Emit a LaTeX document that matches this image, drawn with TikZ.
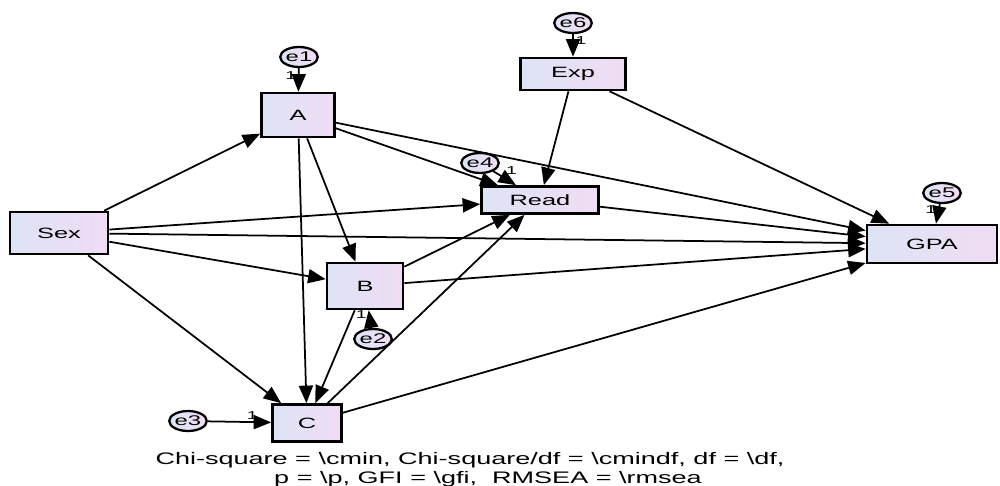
\documentclass[tikz,border=0pt]{standalone}
\usepackage{fontspec}
\setmainfont{Liberation Sans}
\newfontfamily\amosfont[FakeStretch=1.7]{Liberation Sans}
\newfontfamily\fitfont[FakeStretch=1.62]{Liberation Sans}
\usetikzlibrary{arrows.meta,shapes.geometric}
\definecolor{boxleft}{RGB}{222,228,244}
\definecolor{boxright}{RGB}{240,220,244}

\begin{document}
\begin{tikzpicture}[x=0.02cm,y=-0.02cm,>={Triangle[length=10pt,width=8pt]},
  var/.style={draw,line width=1.5pt,left color=boxleft,right color=boxright,
    inner sep=0pt,font=\amosfont\fontsize{8.5}{10}\selectfont},
  err/.style={draw,ellipse,line width=1.3pt,left color=boxleft,right color=boxright,
    inner sep=0pt,minimum width=0.64cm,minimum height=0.4cm,
    font=\amosfont\fontsize{8}{9}\selectfont},
  reg/.style={->,line width=1pt},
  one/.style={font=\amosfont\fontsize{6.5}{7}\selectfont,inner sep=1pt}]
  \useasboundingbox (0,0) rectangle (1000,486);
  % observed variables
  \path
  (59,233) node[var,minimum width=1.96cm,minimum height=0.84cm] (SEX) {Sex}
  (298,115) node[var,minimum width=1.46cm,minimum height=0.88cm] (A) {A}
  (573,74) node[var,minimum width=2.1cm,minimum height=0.64cm] (EXP) {Exp}
  (540,200) node[var,minimum width=2.34cm,minimum height=0.54cm] (READ) {Read}
  (365,286) node[var,minimum width=1.52cm,minimum height=0.92cm] (B) {B}
  (307,423) node[var,minimum width=1.38cm,minimum height=0.74cm] (C) {C}
  (932,244) node[var,minimum width=2.6cm,minimum height=0.76cm] (GPA) {GPA};
  % error terms
  \path
  (299,57) node[err] (E1) {e1}
  (373,339) node[err] (E2) {e2}
  (188,421) node[err] (E3) {e3}
  (480,163) node[err] (E4) {e4}
  (942,193) node[err] (E5) {e5}
  (573,23) node[err] (E6) {e6};

  \draw[reg] (E1) -- node[one,pos=0.3,left] {1} (A);
  \draw[reg] (E2) -- node[one,pos=0.75,left] {1} (B);
  \draw[reg] (E3) -- node[one,pos=0.7,above] {1} (C);
  \draw[reg] (E4) -- node[one,pos=0.45,above right] {1} (READ);
  \draw[reg] (E5) -- node[one,pos=0.3,left] {1} (GPA);
  \draw[reg] (E6) -- node[one,pos=0.3,right] {1} (EXP);

  \draw[reg] (SEX) -- (A);
  \draw[reg] (SEX) -- (READ);
  \draw[reg] (SEX) -- (GPA);
  \draw[reg] (SEX) -- (B);
  \draw[reg] (SEX) -- (C);
  \draw[reg] (A) -- (READ);
  \draw[reg] (A) -- (GPA);
  \draw[reg] (A) -- (B);
  \draw[reg] (A) -- (C);
  \draw[reg] (EXP) -- (READ);
  \draw[reg] (EXP) -- (GPA);
  \draw[reg] (READ) -- (GPA);
  \draw[reg] (B) -- (READ);
  \draw[reg] (B) -- (GPA);
  \draw[reg] (B) -- (C);
  \draw[reg] (C) -- (READ);
  \draw[reg] (C) -- (GPA);

  % fit line
  \path[font=\fitfont\fontsize{9.5}{11}\selectfont]
  (470,464) node[anchor=base] (FIT1)
    {Chi-square = \textbackslash cmin, Chi-square/df = \textbackslash cmindf, df = \textbackslash df,}
  (488,483) node[anchor=base] (FIT2)
    {p = \textbackslash p, GFI = \textbackslash gfi,\ \ RMSEA = \textbackslash rmsea};
\end{tikzpicture}
\end{document}
